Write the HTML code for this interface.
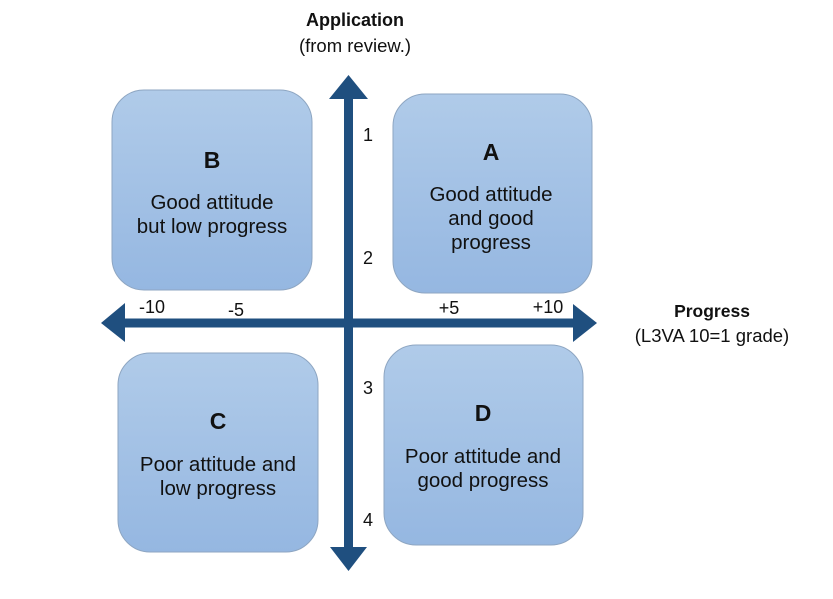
<!DOCTYPE html>
<html><head><meta charset="utf-8"><style>
html,body{margin:0;padding:0;background:#fff;}
svg{display:block;}
text{font-family:"Liberation Sans",sans-serif;fill:#111;}
</style></head><body>
<svg width="833" height="599" viewBox="0 0 833 599" xmlns="http://www.w3.org/2000/svg">
<defs>
<linearGradient id="g" x1="0" y1="0" x2="0" y2="1">
<stop offset="0" stop-color="#b0cbe9"/>
<stop offset="1" stop-color="#95b7e1"/>
</linearGradient>
</defs>
<rect x="112" y="90" width="200" height="200" rx="32" fill="url(#g)" stroke="#8ea6c2" stroke-width="1"/>
<rect x="393" y="94" width="199" height="199" rx="32" fill="url(#g)" stroke="#8ea6c2" stroke-width="1"/>
<rect x="118" y="353" width="200" height="199" rx="32" fill="url(#g)" stroke="#8ea6c2" stroke-width="1"/>
<rect x="384" y="345" width="199" height="200" rx="32" fill="url(#g)" stroke="#8ea6c2" stroke-width="1"/>
<!-- axes -->
<g fill="#1f4f7f">
<rect x="344" y="97" width="9" height="452"/>
<polygon points="348.5,75 329,99 368,99"/>
<polygon points="348.5,571 330,547 367,547"/>
<rect x="123" y="318.5" width="452" height="9"/>
<polygon points="101,323 125,303 125,342"/>
<polygon points="597,323 573,304 573,342"/>
</g>
<!-- titles -->
<text x="355" y="26" font-size="18" font-weight="bold" text-anchor="middle">Application</text>
<text x="355" y="52" font-size="18.5" text-anchor="middle">(from review.)</text>
<text x="712" y="317" font-size="17.5" font-weight="bold" text-anchor="middle">Progress</text>
<text x="712" y="342" font-size="18.5" text-anchor="middle">(L3VA 10=1 grade)</text>
<!-- axis numbers -->
<g font-size="18">
<text x="368" y="141" text-anchor="middle">1</text>
<text x="368" y="264" text-anchor="middle">2</text>
<text x="368" y="394" text-anchor="middle">3</text>
<text x="368" y="526" text-anchor="middle">4</text>
<text x="152" y="313" text-anchor="middle">-10</text>
<text x="236" y="316" text-anchor="middle">-5</text>
<text x="449" y="314" text-anchor="middle">+5</text>
<text x="548" y="313" text-anchor="middle">+10</text>
</g>
<!-- box text -->
<text x="212" y="168" font-size="23" font-weight="bold" text-anchor="middle">B</text>
<text x="212" y="209" font-size="20.5" text-anchor="middle">Good attitude</text>
<text x="212" y="233" font-size="20.5" text-anchor="middle">but low progress</text>

<text x="491" y="160" font-size="23" font-weight="bold" text-anchor="middle">A</text>
<text x="491" y="201" font-size="20.5" text-anchor="middle">Good attitude</text>
<text x="491" y="225" font-size="20.5" text-anchor="middle">and good</text>
<text x="491" y="249" font-size="20.5" text-anchor="middle">progress</text>

<text x="218" y="429" font-size="23" font-weight="bold" text-anchor="middle">C</text>
<text x="218" y="471" font-size="20.5" text-anchor="middle">Poor attitude and</text>
<text x="218" y="495" font-size="20.5" text-anchor="middle">low progress</text>

<text x="483" y="421" font-size="23" font-weight="bold" text-anchor="middle">D</text>
<text x="483" y="463" font-size="20.5" text-anchor="middle">Poor attitude and</text>
<text x="483" y="487" font-size="20.5" text-anchor="middle">good progress</text>
</svg>
</body></html>
